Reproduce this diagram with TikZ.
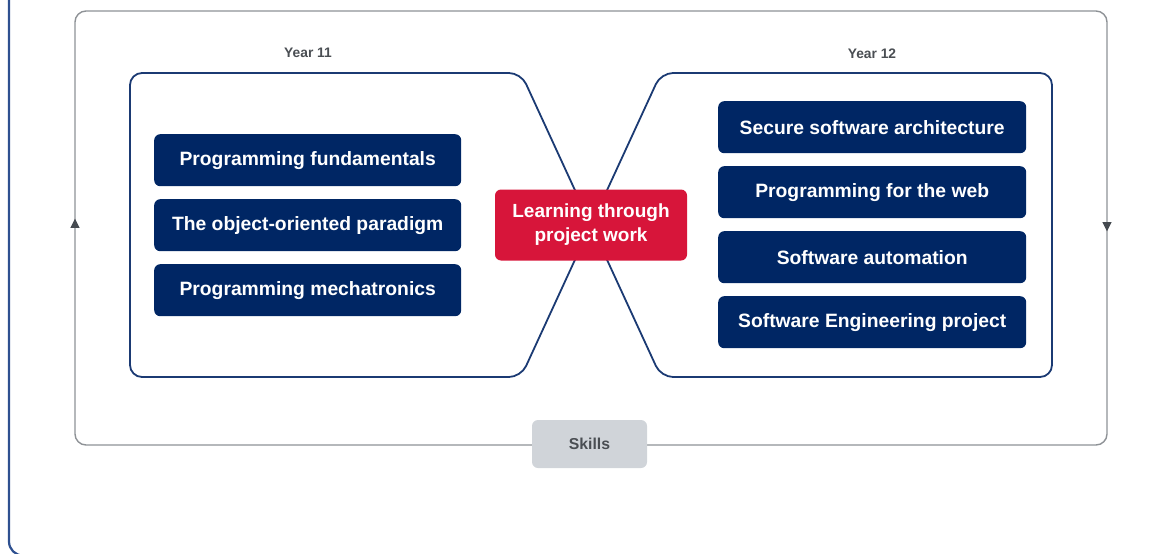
\documentclass[tikz,border=0pt]{standalone}
\usepackage{fontspec}
\setmainfont{Liberation Sans}
\usetikzlibrary{arrows.meta}
\definecolor{navy}{HTML}{002664}
\definecolor{shapeblue}{HTML}{1B3A73}
\definecolor{frameblue}{HTML}{2E5090}
\definecolor{nswred}{HTML}{D7153A}
\definecolor{framegray}{HTML}{8E9296}
\definecolor{skillgray}{HTML}{D0D4D9}
\definecolor{labelgray}{HTML}{4A4E53}
\definecolor{arrowgray}{HTML}{454A50}
\tikzset{
  itembox/.style={fill=navy, rounded corners=6pt, text=white, font=\fontsize{19.3}{23}\selectfont\bfseries, minimum height=52pt, inner sep=0pt, anchor=north west},
  leftitem/.style={itembox, minimum width=307pt},
  rightitem/.style={itembox, minimum width=308pt},
  centerbox/.style={fill=nswred, rounded corners=6pt, text=white, font=\fontsize{19}{24}\selectfont\bfseries, align=center, minimum width=192pt, minimum height=71pt, inner sep=0pt},
  yearlabel/.style={text=labelgray, font=\fontsize{13.8}{16}\selectfont\bfseries},
  skillbox/.style={fill=skillgray, rounded corners=6pt, text=labelgray, font=\fontsize{15.8}{18}\selectfont\bfseries, minimum width=115pt, minimum height=48pt, inner sep=0pt},
  yearshape/.style={draw=shapeblue, line width=1.8pt, rounded corners=12pt},
  flowtip/.style={-{Triangle[length=9.5pt,width=9.5pt]}, arrowgray, line width=0.1pt, draw opacity=0}
}
\begin{document}
\begin{tikzpicture}[x=1pt,y=-1pt]
\useasboundingbox (0,0) rectangle (1167,554);
\clip (0,0) rectangle (1167,554);
% outer frame (partly outside the picture)
\draw[frameblue, line width=2.2pt, rounded corners=14pt] (9,-30) rectangle (1179,555.5);
% skills loop frame
\draw[framegray, line width=1.4pt, rounded corners=11pt] (75,11) rectangle (1107,445);
\coordinate (la) at (75,232);
\coordinate (lb) at (75,218.5);
\coordinate (ra) at (1107,218);
\coordinate (rb) at (1107,231.5);
\draw[flowtip] (la) -- (lb);
\draw[flowtip] (ra) -- (rb);
% year shapes
\draw[yearshape] (130,73) -- (521,73) -- (591,225) -- (521,377) -- (130,377) -- cycle;
\draw[yearshape] (1052,73) -- (661,73) -- (591,225) -- (661,377) -- (1052,377) -- cycle;
% labels
\node[yearlabel] (y11) at (308,53) {Year 11};
\node[yearlabel] (y12) at (872,54) {Year 12};
% left items
\node[leftitem] (l1) at (154,134) {Programming fundamentals};
\node[leftitem] (l2) at (154,199) {The object-oriented paradigm};
\node[leftitem] (l3) at (154,264) {Programming mechatronics};
% right items
\node[rightitem] (r1) at (718,101) {Secure software architecture};
\node[rightitem] (r2) at (718,166) {Programming for the web};
\node[rightitem] (r3) at (718,231) {Software automation};
\node[rightitem] (r4) at (718,296) {Software Engineering project};
% center
\node[centerbox] (c) at (591,225) {Learning through\\project work};
% skills
\node[skillbox] (s) at (589.5,444) {Skills};
\end{tikzpicture}
\end{document}
